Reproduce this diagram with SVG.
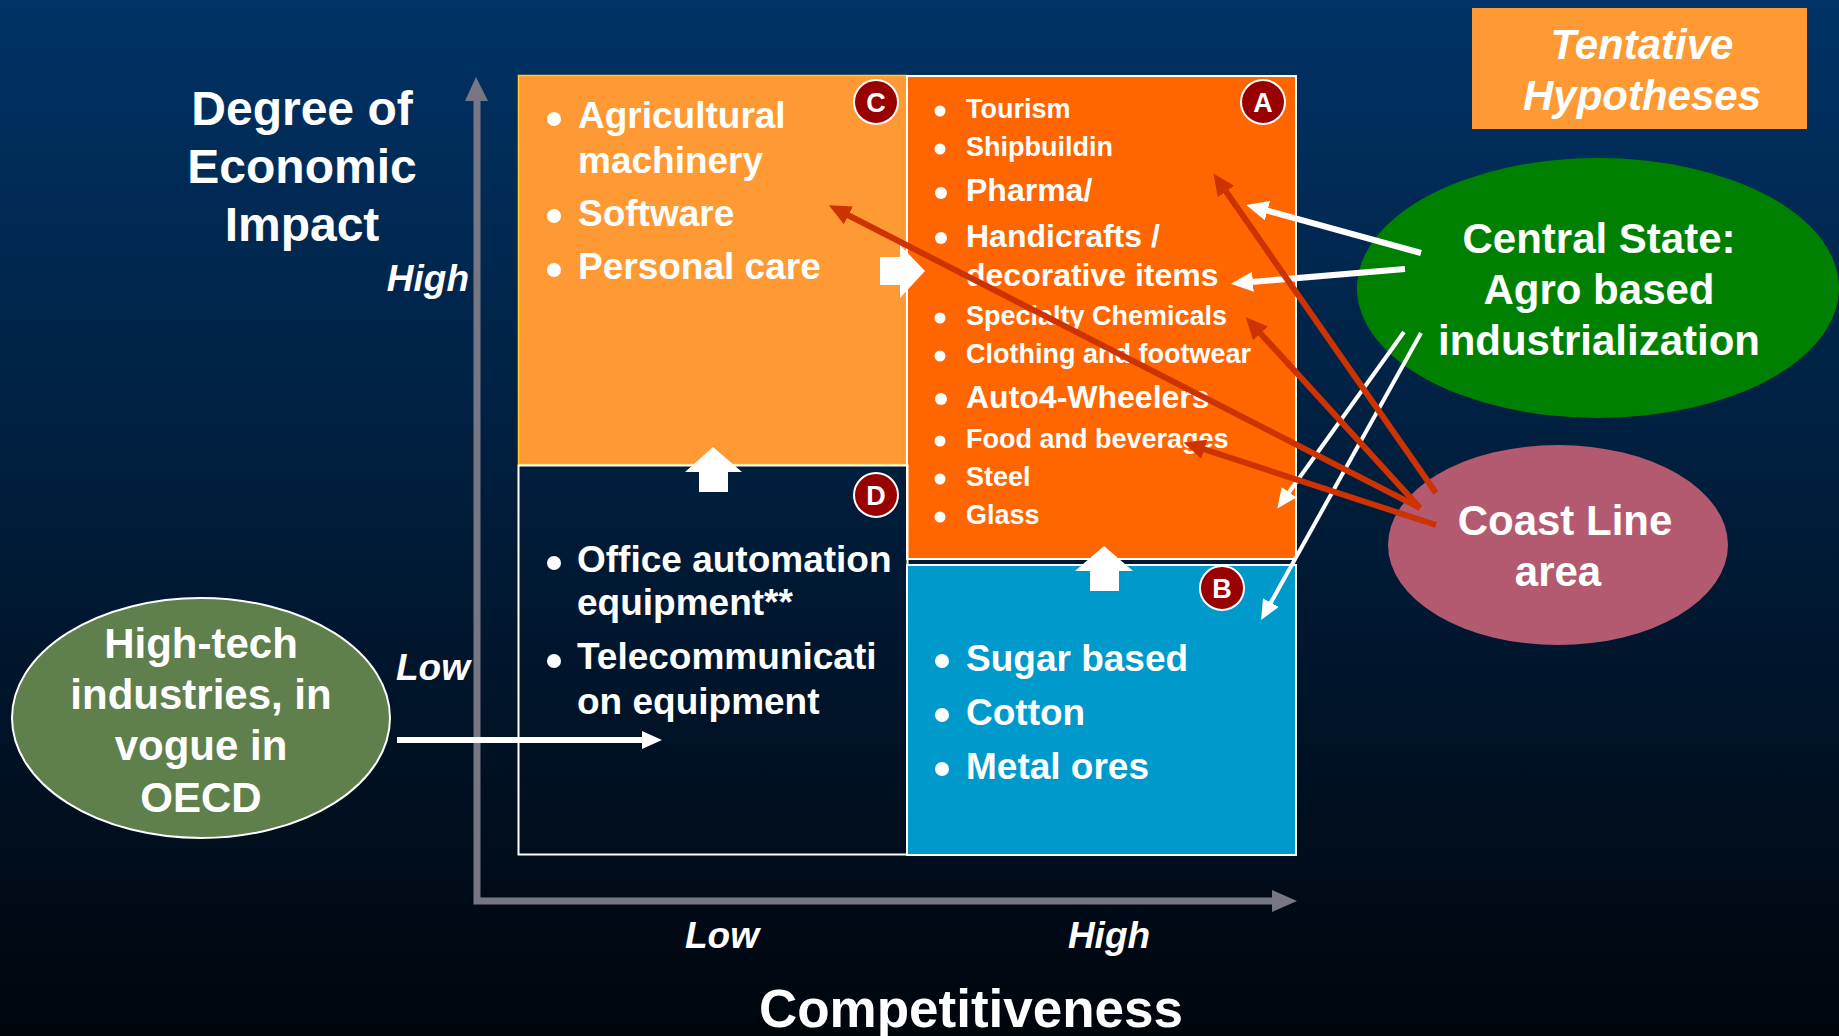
<svg xmlns="http://www.w3.org/2000/svg" width="1839" height="1036" viewBox="0 0 1839 1036">
<defs>
<linearGradient id="bg" x1="0" y1="0" x2="0" y2="1"><stop offset="0" stop-color="#003366"/><stop offset="1" stop-color="#00050c"/></linearGradient>
<marker id="hw" markerUnits="userSpaceOnUse" markerWidth="24" markerHeight="22" refX="14" refY="10" orient="auto"><path d="M0 0L22 10L0 20Z" fill="#fff"/></marker>
<marker id="hs" markerUnits="userSpaceOnUse" markerWidth="20" markerHeight="20" refX="12" refY="9" orient="auto"><path d="M0 0L20 9L0 18Z" fill="#fff"/></marker>
<marker id="hr" markerUnits="userSpaceOnUse" markerWidth="24" markerHeight="22" refX="14" refY="10" orient="auto"><path d="M0 0L22 10L0 20Z" fill="#cc3300"/></marker>
</defs>
<style>
text{font-family:"Liberation Sans",Arial,sans-serif;font-weight:700;fill:#fff}
.i{font-style:italic}
.m{text-anchor:middle}
.s37{font-size:37px}.s27{font-size:27px}.s32{font-size:32px}.s42{font-size:42px}.s48{font-size:48px}
.e{text-anchor:end}
.bu{fill:#fff}
.q{stroke:#fff;stroke-width:2}
.b{fill:#990000;stroke:#fff;stroke-width:2}
.l{font-size:27px;text-anchor:middle}
.w{stroke:#fff;fill:none}
.r{stroke:#cc3300;stroke-width:6;fill:none;marker-end:url(#hr)}
</style>
<rect width="1839" height="1036" fill="url(#bg)"/>
<g id="axes">
<path d="M477 95V901H1275" fill="none" stroke="#777783" stroke-width="7"/>
<path d="M476 77L488 101H465Z" fill="#777783"/>
<path d="M1297 901L1272 890V912Z" fill="#777783"/>
</g>
<g id="quadrant-c">
<rect x="518.500" y="75.500" width="388" height="389" fill="#ff9933" stroke="#ffcc33" stroke-width="1.500"/>
<circle class="bu" cx="554" cy="119" r="7"/><circle class="bu" cx="554" cy="216" r="7"/><circle class="bu" cx="554" cy="270" r="7"/>
<text class="s37" x="578" y="128">Agricultural</text>
<text class="s37" x="578" y="173">machinery</text>
<text class="s37" x="578" y="226">Software</text>
<text class="s37" x="578" y="279">Personal care</text>
<circle class="b" cx="876" cy="102" r="22"/><text class="l" x="876" y="112">C</text>
</g>
<g id="quadrant-a">
<rect x="907" y="76" width="389" height="483" fill="#ff6600" stroke="#fff" stroke-width="2"/>
<g class="bu"><circle cx="940" cy="111" r="5.500"/><circle cx="940" cy="149" r="5.500"/><circle cx="941" cy="193" r="6"/><circle cx="941" cy="238" r="6"/><circle cx="940" cy="318" r="5.500"/><circle cx="940" cy="356" r="5.500"/><circle cx="941" cy="399" r="6"/><circle cx="940" cy="441" r="5.500"/><circle cx="940" cy="479" r="5.500"/><circle cx="940" cy="517" r="5.500"/></g>
<text class="s27" x="966" y="118">Tourism</text>
<text class="s27" x="966" y="156">Shipbuildin</text>
<text class="s32" x="966" y="201">Pharma/</text>
<text class="s32" x="966" y="247">Handicrafts /</text>
<text class="s32" x="966" y="286">decorative items</text>
<text class="s27" x="966" y="325">Specialty Chemicals</text>
<text class="s27" x="966" y="363">Clothing and footwear</text>
<text class="s32" x="966" y="408">Auto4-Wheelers</text>
<text class="s27" x="966" y="448">Food and beverages</text>
<text class="s27" x="966" y="486">Steel</text>
<text class="s27" x="966" y="524">Glass</text>
<circle class="b" cx="1263" cy="102" r="22"/><text class="l" x="1263" y="112">A</text>
</g>
<g id="quadrant-d">
<rect x="518.500" y="465.500" width="389" height="389" fill="none" stroke="#fff" stroke-width="2"/>
<circle class="bu" cx="554" cy="563" r="7"/><circle class="bu" cx="554" cy="661" r="7"/>
<text class="s37" x="577" y="572">Office automation</text>
<text class="s37" x="577" y="615">equipment**</text>
<text class="s37" x="577" y="669">Telecommunicati</text>
<text class="s37" x="577" y="714">on equipment</text>
<circle class="b" cx="876" cy="495" r="22"/><text class="l" x="876" y="505">D</text>
</g>
<g id="quadrant-b">
<rect x="907" y="565" width="389" height="290" fill="#0099cc" stroke="#fff" stroke-width="2"/>
<circle class="bu" cx="942" cy="661" r="7"/><circle class="bu" cx="942" cy="715" r="7"/><circle class="bu" cx="942" cy="769" r="7"/>
<text class="s37" x="966" y="671">Sugar based</text>
<text class="s37" x="966" y="725">Cotton</text>
<text class="s37" x="966" y="779">Metal ores</text>
<circle class="b" cx="1222" cy="588" r="22"/><text class="l" x="1222" y="598">B</text>
</g>
<g id="move-arrows" fill="#fff">
<path d="M880 257H900V245L925 271L900 298V285H880Z"/>
<path d="M685 472L713 447L742 472H728V492H699V472Z"/>
<path d="M1075 571L1104 546L1133 571H1119V591H1090V571Z"/>
</g>
<g id="axis-labels">
<text class="s48 m" x="302" y="125">Degree of</text>
<text class="s48 m" x="302" y="183">Economic</text>
<text class="s48 m" x="302" y="241">Impact</text>
<text class="s37 i e" x="469" y="291">High</text>
<text class="s37 i e" x="470" y="680">Low</text>
<text class="s37 i m" x="722" y="948">Low</text>
<text class="s37 i m" x="1109" y="948">High</text>
<text class="m" font-size="53" x="971" y="1027">Competitiveness</text>
</g>
<g id="tentative-hypotheses">
<rect x="1472" y="8" width="335" height="121" fill="#ff9933"/>
<text class="s42 i m" x="1642" y="59">Tentative</text>
<text class="s42 i m" x="1642" y="110">Hypotheses</text>
</g>
<g id="central-state">
<ellipse cx="1598" cy="288" rx="241" ry="130" fill="#008000"/>
<text class="s42 m" x="1599" y="253">Central State:</text>
<text class="s42 m" x="1599" y="304">Agro based</text>
<text class="s42 m" x="1599" y="355">industrialization</text>
</g>
<g id="coast-line">
<ellipse cx="1558" cy="545" rx="170" ry="100" fill="#b35a70"/>
<text class="s42 m" x="1565" y="535">Coast Line</text>
<text class="s42 m" x="1558" y="586">area</text>
</g>
<g id="high-tech">
<ellipse cx="201" cy="718" rx="189" ry="120" fill="#5f804d" stroke="#fff" stroke-width="2"/>
<text class="s42 m" x="201" y="658">High-tech</text>
<text class="s42 m" x="201" y="709">industries, in</text>
<text class="s42 m" x="201" y="760">vogue in</text>
<text class="s42 m" x="201" y="812">OECD</text>
</g>
<g id="connectors">
<path class="w" stroke-width="6" marker-end="url(#hs)" d="M397 740H654"/>
<path class="w" stroke-width="6" marker-end="url(#hw)" d="M1421 253L1254 207"/>
<path class="w" stroke-width="6" marker-end="url(#hw)" d="M1405 269L1239 283"/>
<path class="w" stroke-width="4" marker-end="url(#hs)" d="M1404 332L1282 502"/>
<path class="w" stroke-width="4" marker-end="url(#hs)" d="M1421 333L1265 613"/>
<path class="r" d="M1436 493L1218 180"/>
<path class="r" d="M1420 508L1251 323"/>
<path class="r" d="M1420 508L836 209"/>
<path class="r" d="M1436 525L1191 445"/>
</g>
</svg>
